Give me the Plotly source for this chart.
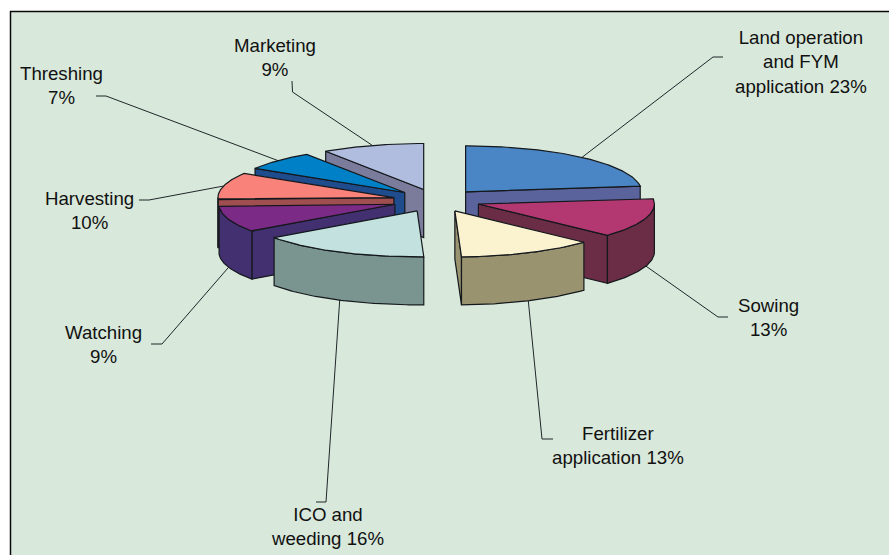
import numpy as np
import plotly.graph_objects as go

# ---- data ----
categories = ["Land operation<br>and FYM<br>application 23%", "Sowing<br>13%",
              "Fertilizer<br>application 13%", "ICO and<br>weeding 16%",
              "Watching<br>9%", "Harvesting<br>10%", "Threshing<br>7%", "Marketing<br>9%"]
shares = [23.0, 13.9, 12.5, 15.7, 9.2, 9.5, 6.8, 9.4]

# ---- styling ----
top_colors = ["#4A86C5", "#B33872", "#FBF3CF", "#C3E2DF", "#7B2A85", "#F9837A", "#0080C6", "#B0BDDE"]
wall_colors = ["#5A639C", "#6B2D45", "#999370", "#7A9490", "#423070", "#A04F50", "#1F4C8C", "#7B7C9C"]
draw_order = [0, 7, 6, 5, 1, 4, 2, 3]
label_xy = [(801, 62), (768, 317), (618, 445.5), (327.5, 526), (103, 344), (89.5, 210), (61, 85), (275, 57)]
leader_tail = [[(723, 57), (713, 57)], [(728, 317), (718, 317)], [(553, 439), (542, 439)],
               [(316, 502), (326, 502)], [(151, 344), (162, 344)], [(139, 200), (149, 200)],
               [(96, 96), (106, 96)], [(292, 81), (292.5, 92)]]
CX, CY, RX, RY, EXPLODE, DEPTH = 436.5, 200.5, 176, 46, 44, 48
BG, EDGE, FONT = "#D8E8DA", "#14181C", "Liberation Sans"

edges = np.cumsum([0] + shares) / sum(shares) * 2 * np.pi


def ring(t, ox, oy, drop=0.0):
    return ox + RX * np.sin(t), oy - RY * np.cos(t) + drop


def poly(x, y, fill, width=1.2):
    x = np.append(x, x[0])
    y = np.append(y, y[0])
    return go.Scatter(x=x, y=y, mode="lines", fill="toself", fillcolor=fill,
                      line=dict(color=EDGE, width=width), hoverinfo="skip", showlegend=False)


fig = go.Figure()

# leader lines underneath the slices
for i, tail in enumerate(leader_tail):
    mid = (edges[i] + edges[i + 1]) / 2
    ox = CX + EXPLODE * np.sin(mid)
    oy = CY - EXPLODE * RY / RX * np.cos(mid)
    hx, hy = ring(mid, ox, oy, DEPTH if np.cos(mid) < 0 else 0)
    fig.add_trace(go.Scatter(x=[p[0] for p in tail] + [hx], y=[p[1] for p in tail] + [hy],
                             mode="lines", line=dict(color="#20262A", width=1),
                             hoverinfo="skip", showlegend=False))

# slices, painted back to front
for i in draw_order:
    a, b = edges[i], edges[i + 1]
    mid = (a + b) / 2
    ox = CX + EXPLODE * np.sin(mid)
    oy = CY - EXPLODE * RY / RX * np.cos(mid)
    # radial walls that face the viewer
    for t, visible in ((a, np.sin(a) < -1e-6), (b, np.sin(b) > 1e-6)):
        if visible:
            ex, ey = ring(t, ox, oy)
            fig.add_trace(poly(np.array([ox, ex, ex, ox]),
                               np.array([oy, ey, ey + DEPTH, oy + DEPTH]), wall_colors[i]))
    # outer wall on the near half of the ellipse
    lo, hi = max(a, np.pi / 2), min(b, 3 * np.pi / 2)
    if hi > lo:
        t = np.linspace(lo, hi, 60)
        ex, ey = ring(t, ox, oy)
        fig.add_trace(poly(np.concatenate([ex, ex[::-1]]),
                           np.concatenate([ey, ey[::-1] + DEPTH]), wall_colors[i]))
    # top face
    t = np.linspace(a, b, 80)
    ex, ey = ring(t, ox, oy)
    fig.add_trace(poly(np.concatenate([[ox], ex]), np.concatenate([[oy], ey]), top_colors[i]))

for name, (lx, ly) in zip(categories, label_xy):
    fig.add_annotation(x=lx, y=ly, text=name, showarrow=False, xanchor="center", yanchor="middle",
                       align="center", font=dict(family=FONT, size=18.67, color="#111111"))

fig.add_shape(type="rect", x0=10.5, y0=11.5, x1=960, y1=620, xref="x", yref="y", layer="below",
              fillcolor=BG, line=dict(color="#0A0A0A", width=1.5))

fig.update_layout(width=889, height=555, autosize=False, margin=dict(l=0, r=0, t=0, b=0),
                  paper_bgcolor="white", plot_bgcolor="white", showlegend=False,
                  xaxis=dict(range=[0, 889], visible=False, fixedrange=True),
                  yaxis=dict(range=[555, 0], visible=False, fixedrange=True))
fig.write_html("out.html", config={"displayModeBar": False},
               post_script="document.body.style.margin='0';document.documentElement.style.overflow='hidden';")
